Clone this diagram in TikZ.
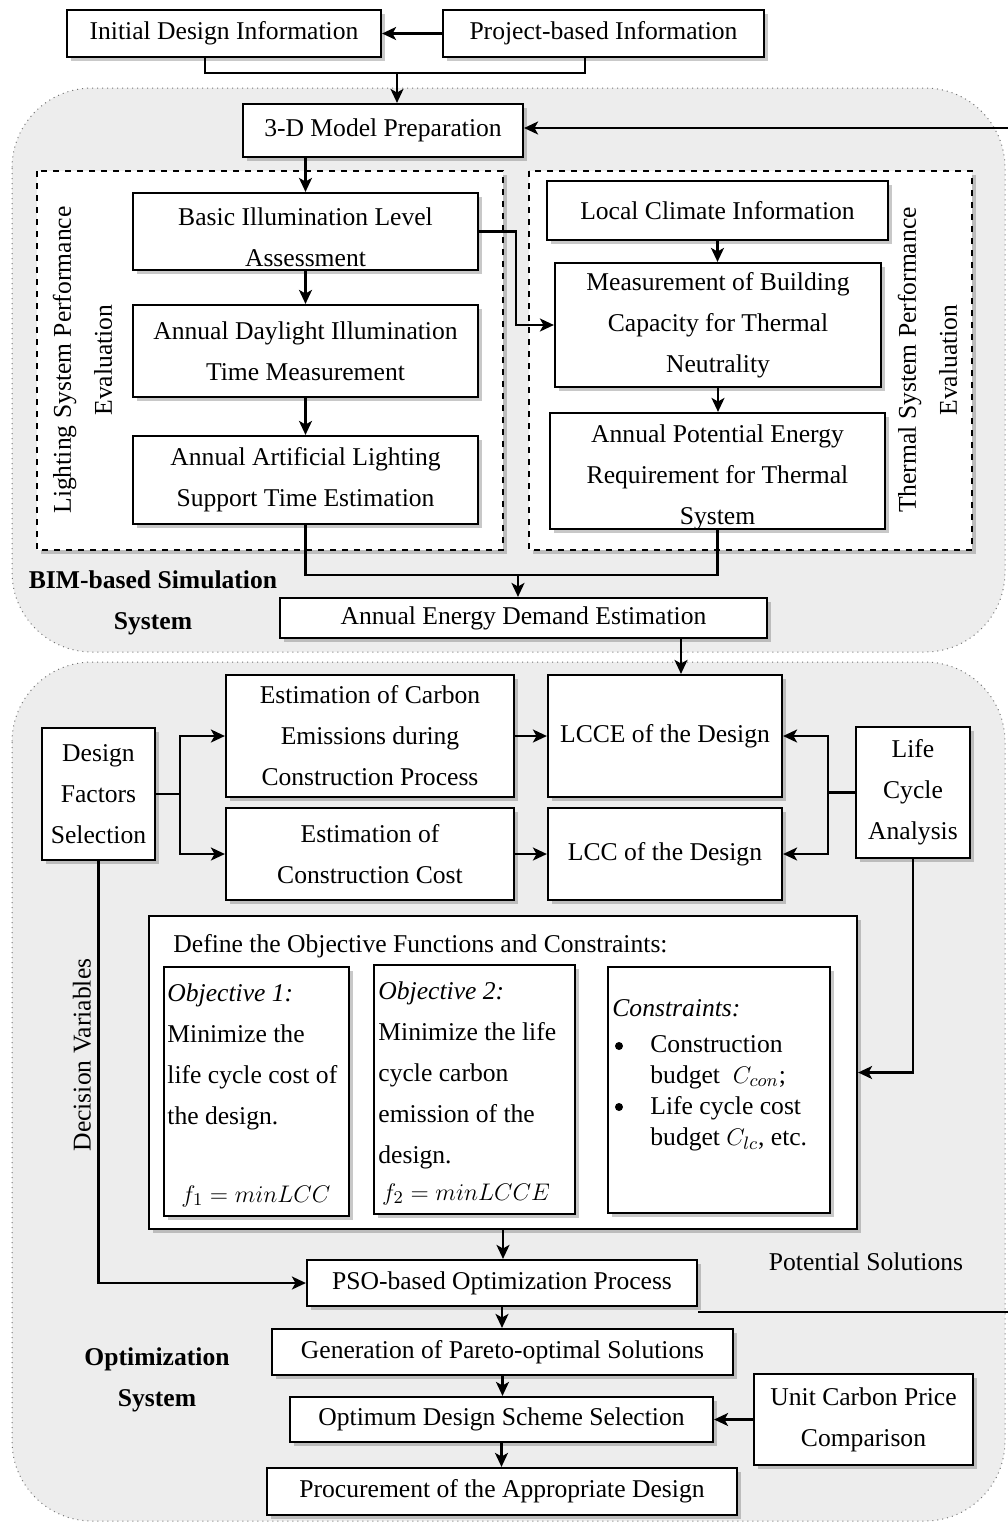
\documentclass[tikz,border=0pt]{standalone}
\usepackage{fontspec}
\setmainfont{Liberation Serif}
\usetikzlibrary{arrows.meta,shadows,calc}
\begin{document}
\begin{tikzpicture}[x=0.5pt,y=-0.5pt]
\tikzset{
 basefont/.style={font=\fontsize{12.8}{20.5}\selectfont},
 shad/.style={drop shadow={shadow xshift=1.8pt,shadow yshift=-1.8pt,fill=black!70,opacity=0.3}},
 box/.style={basefont, draw, line width=1.1pt, fill=white, align=center, inner sep=0pt, shad},
 arr/.style={line width=1.1pt,-{Stealth[length=7pt,width=6.5pt,inset=1.8pt]}},
 ln/.style={line width=1.1pt},
 region/.style={draw=black!55, dotted, line width=0.5pt, fill=black!7, rounded corners=40pt},
 dbox/.style={draw, dashed, line width=0.9pt, fill=white, shad},
 lab/.style={basefont, align=center, inner sep=0pt},
 blab/.style={lab, font=\fontsize{12.8}{20.5}\selectfont\bfseries},
 bul/.style={circle, fill=black, inner sep=0pt, minimum size=4pt},
}
\useasboundingbox (0,0) rectangle (1008,1523);
% regions
\draw[region] (12,88) rectangle (1005,652);
\draw[region] (12,662) rectangle (1005,1521);
\draw[dbox] (37,171) rectangle (503,550);
\draw[dbox] (529,171) rectangle (972,550);

% top nodes
\node[box, minimum width=157pt, minimum height=23.5pt] (idi) at (224,33.5) {Initial Design Information};
\node[box, minimum width=160.5pt, minimum height=23.5pt] (pbi) at (603.5,33.5) {Project-based Information};
\node[box, minimum width=140pt, minimum height=26.5pt] (tdm) at (383,130.5) {3-D Model Preparation};

% lighting
\node[box, minimum width=172.5pt, minimum height=38.5pt] (bil) at (305.5,231.5) {};
\node[lab] (bilT) at (305.5,237) {Basic Illumination Level\\Assessment};
\node[box, minimum width=172.5pt, minimum height=46pt] (adi) at (305.5,351) {Annual Daylight Illumination\\Time Measurement};
\node[box, minimum width=172.5pt, minimum height=44pt] (aal) at (305.5,480) {Annual Artificial Lighting\\Support Time Estimation};
\node[lab, rotate=90] (lsp) at (82.5,360) {Lighting System Performance\\Evaluation};

% thermal
\node[box, minimum width=170.5pt, minimum height=29.5pt] (lci) at (717.5,210.5) {Local Climate Information};
\node[box, minimum width=163pt, minimum height=62pt] (mbc) at (718,325) {Measurement of Building\\Capacity for Thermal\\Neutrality};
\node[box, minimum width=167.5pt, minimum height=58pt] (ape) at (717.5,471) {};
\node[lab] (apeT) at (717.5,477) {Annual Potential Energy\\Requirement for Thermal\\System};
\node[lab, rotate=90] (tsp) at (927.5,360) {Thermal System Performance\\Evaluation};

\node[box, minimum width=243.5pt, minimum height=20pt] (aed) at (523.5,618) {Annual Energy Demand Estimation};
\node[blab] (bim) at (153,603) {BIM-based Simulation\\System};

% optimization upper
\node[box, minimum width=144pt, minimum height=61pt] (ece) at (370,736) {Estimation of Carbon\\Emissions during\\Construction Process};
\node[box, minimum width=117pt, minimum height=61pt] (lcce) at (665,736) {LCCE of the Design};
\node[box, minimum width=144pt, minimum height=46pt] (ecc) at (370,854) {Estimation of\\Construction Cost};
\node[box, minimum width=117pt, minimum height=46pt] (lcc) at (665,854) {LCC of the Design};
\node[box, minimum width=56.5pt, minimum height=66pt] (dfs) at (98.5,794) {Design\\Factors\\Selection};
\node[box, minimum width=57pt, minimum height=65.5pt] (lca) at (913,792.5) {Life\\Cycle\\Analysis};

% define box
\node[box, minimum width=354pt, minimum height=156.5pt] (def) at (503,1072.5) {};
\node[lab, anchor=west] (defT) at (173,946) {Define the Objective Functions and Constraints:};
\node[box, minimum width=92.5pt, minimum height=124.5pt] (ob1) at (256.5,1091.5) {};
\node[box, minimum width=100.5pt, minimum height=124.5pt] (ob2) at (474.5,1089.5) {};
\node[box, minimum width=111pt, minimum height=123pt] (con) at (719,1090) {};
\node[lab, align=left, anchor=north west] (ob1T) at (167,983) {\textit{Objective 1:}\\Minimize the\\life cycle cost of\\the design.};
\node[lab] (f1) at (256,1196) {$f_1 = minLCC$};
\node[lab, align=left, anchor=north west] (ob2T) at (378,981) {\textit{Objective 2:}\\Minimize the life\\cycle carbon\\emission of the\\design.};
\node[lab] (f2) at (466,1194) {$f_2 = minLCCE$};
\node[lab, anchor=west] (conT) at (612,1008) {\textit{Constraints:}};
\node[bul] (bu1) at (619,1046) {};
\node[bul] (bu2) at (619,1107) {};
\node[lab, align=left, anchor=north west, font=\fontsize{12.8}{15.5}\selectfont] (c1) at (650,1035) {Construction\\budget \ $C_{con}$;};
\node[lab, align=left, anchor=north west, font=\fontsize{12.8}{15.5}\selectfont] (c2) at (650,1096) {Life cycle cost\\budget $C_{lc}$, etc.};

\node[lab, rotate=90] (dv) at (82,1055) {Decision Variables};

% lower chain
\node[box, minimum width=195pt, minimum height=23pt] (pso) at (502,1283) {PSO-based Optimization Process};
\node[lab] (pot) at (866,1262) {Potential Solutions};
\node[box, minimum width=230.5pt, minimum height=23pt] (gen) at (502.5,1352) {Generation of Pareto-optimal Solutions};
\node[box, minimum width=211.5pt, minimum height=22.5pt] (opt) at (501.5,1419.5) {Optimum Design Scheme Selection};
\node[box, minimum width=109.5pt, minimum height=45.5pt] (ucp) at (863.5,1419.5) {Unit Carbon Price\\Comparison};
\node[box, minimum width=235pt, minimum height=23.5pt] (pro) at (502,1491.5) {Procurement of the Appropriate Design};
\node[blab] (osys) at (157,1380) {Optimization\\System};

% coordinates
\coordinate (j1) at (397,73);
\coordinate (fbT) at (1008,128);
\coordinate (k1) at (516,280);
\coordinate (j2) at (518,575);
\coordinate (c681) at (681,0);
\coordinate (b1) at (180,794);
\coordinate (b2) at (828,792.5);
\coordinate (fbB) at (1008,1312);

% connectors
\draw[arr] (pbi.west) -- (idi.east);
\draw[ln] ([xshift=-9.5pt]idi.south) |- (j1) -| ([xshift=-9.25pt]pbi.south);
\draw[arr] (j1) -- (j1 |- tdm.north);
\draw[arr] (fbT) -- (tdm.east |- fbT);
\draw[arr] (tdm.south -| bil.north) -- (bil.north);
\draw[arr] (bil.south) -- (adi.north);
\draw[arr] (adi.south) -- (aal.north);
\draw[arr] (lci.south) -- (lci.south |- mbc.north);
\draw[arr] (mbc.south) -- (mbc.south |- ape.north);
\draw[arr] (bil.east) -| (k1) |- (mbc.west);
\draw[ln] (aal.south) |- (j2) -| (ape.south);
\draw[arr] (j2) -- (j2 |- aed.north);
\draw[arr] (aed.south -| c681) -- (lcce.north -| c681);
\draw[ln] (dfs.east) -- (b1);
\draw[arr] (b1) |- (ece.west);
\draw[arr] (b1) |- (ecc.west);
\draw[arr] (ece.east) -- (lcce.west);
\draw[arr] (ecc.east) -- (lcc.west);
\draw[ln] (lca.west) -- (b2);
\draw[arr] (b2) |- (lcce.east);
\draw[arr] (b2) |- (lcc.east);
\draw[arr] (lca.south) |- (def.east);
\draw[arr] (dfs.south) |- (pso.west);
\draw[arr] (def.south) -- (def.south |- pso.north);
\draw[ln] (pso.east |- fbB) -- (fbB);
\draw[arr] (pso.south) -- (pso.south |- gen.north);
\draw[arr] (gen.south) -- (gen.south |- opt.north);
\draw[arr] (ucp.west) -- (opt.east);
\draw[arr] (opt.south) -- (opt.south |- pro.north);
\end{tikzpicture}
\end{document}
